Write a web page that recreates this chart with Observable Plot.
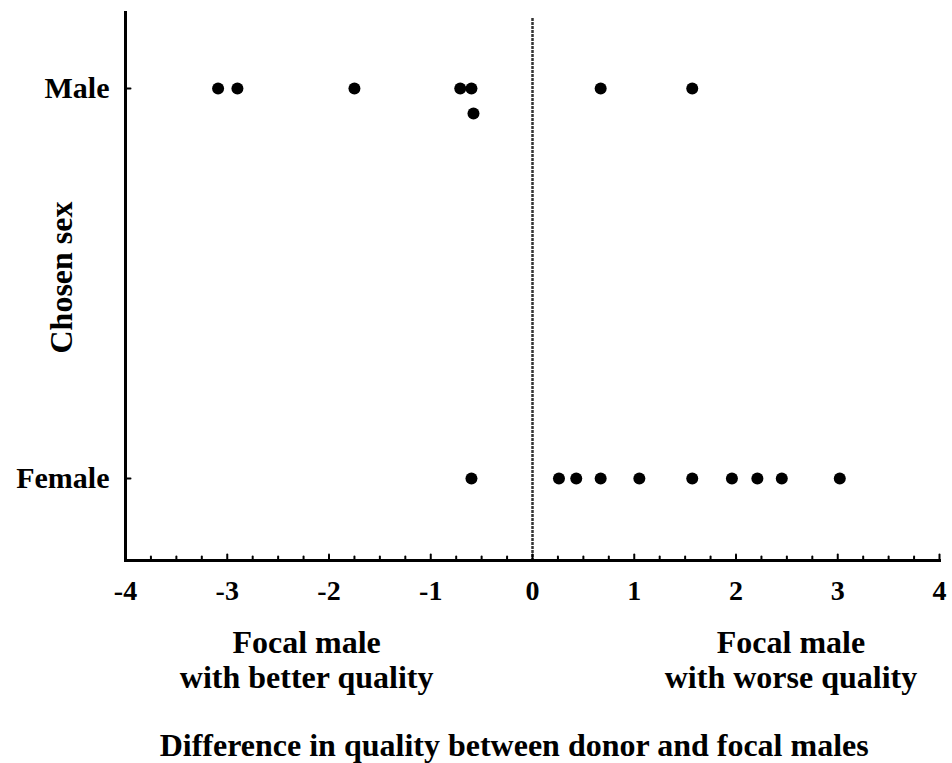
<!DOCTYPE html>
<html>
<head>
<meta charset="utf-8">
<script src="https://cdn.jsdelivr.net/npm/d3@7"></script>
<script src="https://cdn.jsdelivr.net/npm/@observablehq/plot@0.6"></script>
<style>
  html, body { margin: 0; padding: 0; background: #fff; }
  #chart svg { display: block; }
</style>
</head>
<body>
<div id="chart"></div>
<script>
// ---- data ----
const categories = ["Male", "Female"];
const maleDiff = [-3.09, -2.90, -1.75, -0.71, -0.60, 0.67, 1.57];
const maleStackedDiff = [-0.58];
const femaleDiff = [-0.60, 0.26, 0.43, 0.67, 1.05, 1.57, 1.96, 2.21, 2.45, 3.02];
const xTicks = [-4, -3, -2, -1, 0, 1, 2, 3, 4];
const xMinorTicks = d3.range(-4, 4.001, 0.25).filter(v => !Number.isInteger(v));
const xTitle = "Difference in quality between donor and focal males";
const yTitle = "Chosen sex";
const leftNote = "Focal male\nwith better quality";
const rightNote = "Focal male\nwith worse quality";

const points = [
  ...maleDiff.map(v => ({sex: "Male", diff: v})),
  ...femaleDiff.map(v => ({sex: "Female", diff: v}))
];
const stacked = maleStackedDiff.map(v => ({sex: "Male", diff: v}));

const lineShape = {draw(context, l) { context.moveTo(0, 0); context.lineTo(0, -l); }};
const font = "'Liberation Serif', 'Times New Roman', serif";

const chart = Plot.plot({
  width: 952,
  height: 763,
  marginLeft: 125,
  marginRight: 13,
  marginTop: 12,
  marginBottom: 203,
  style: {fontFamily: font, fontWeight: "bold", color: "#000", background: "#fff"},
  x: {domain: [-4, 4]},
  y: {type: "point", domain: categories, range: [88, 478], padding: 0},
  marks: [
    Plot.ruleX([0], {stroke: "#333", strokeWidth: 2.5, strokeDasharray: "3,1", insetTop: 6}),
    Plot.frame({anchor: "left", stroke: "#000", strokeWidth: 3}),
    Plot.frame({anchor: "bottom", stroke: "#000", strokeWidth: 3}),
    Plot.vector(xTicks, {x: d => d, frameAnchor: "bottom", length: 6, rotate: 0, anchor: "start", shape: lineShape, stroke: "#000", strokeWidth: 2}),
    Plot.vector(xMinorTicks, {x: d => d, frameAnchor: "bottom", length: 4, rotate: 0, anchor: "start", shape: lineShape, stroke: "#000", strokeWidth: 2}),
    Plot.vector(categories, {y: d => d, frameAnchor: "left", length: 5, rotate: 90, anchor: "start", shape: lineShape, stroke: "#000", strokeWidth: 2}),
    Plot.axisX({ticks: xTicks, tickSize: 0, tickPadding: 20, fontSize: 28, tickFormat: d => String(d).replace("−", "-"), label: null}),
    Plot.axisY({tickSize: 0, tickPadding: 16, fontSize: 30, label: null}),
    Plot.dot(points, {x: "diff", y: "sex", r: 6, fill: "#000", stroke: null}),
    Plot.dot(stacked, {x: "diff", y: "sex", r: 6, fill: "#000", stroke: null, dy: 25}),
    Plot.text([leftNote], {x: -2.22, frameAnchor: "bottom", lineAnchor: "top", dy: 67, fontSize: 32, lineHeight: 1.1, fill: "#000"}),
    Plot.text([rightNote], {x: 2.54, frameAnchor: "bottom", lineAnchor: "top", dy: 67, fontSize: 32, lineHeight: 1.1, fill: "#000"}),
    Plot.text([xTitle], {x: -0.18, frameAnchor: "bottom", lineAnchor: "bottom", dy: 195, fontSize: 32, fill: "#000"}),
    Plot.text([yTitle], {frameAnchor: "left", textAnchor: "middle", rotate: -90, dx: -64, dy: -9, fontSize: 32, fill: "#000"})
  ]
});
document.getElementById("chart").appendChild(chart);
</script>
</body>
</html>
